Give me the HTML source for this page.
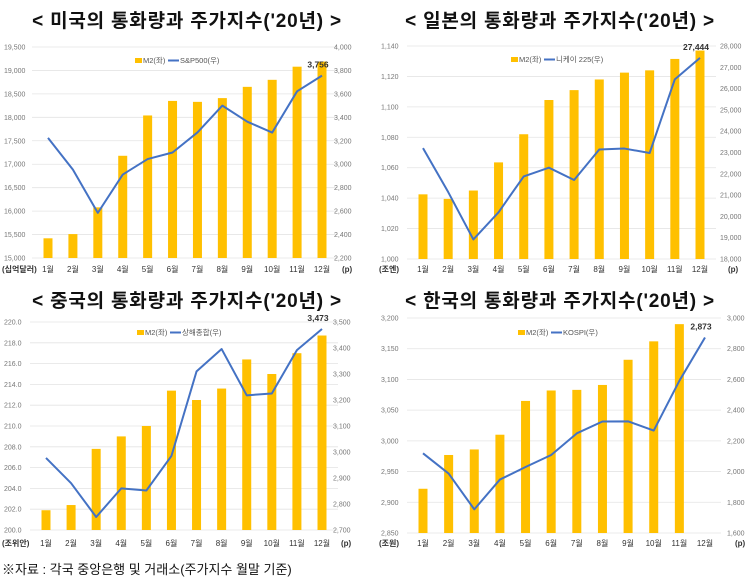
<!DOCTYPE html>
<html><head><meta charset="utf-8">
<style>
body{margin:0;background:#fff;}
svg{display:block;font-family:"Liberation Sans","Noto Sans CJK KR",sans-serif;}
.ttl{letter-spacing:0.8px;}
</style></head>
<body>
<svg id="c" width="750" height="580" viewBox="0 0 750 580">
<rect width="750" height="580" fill="#fff"/>
<text class="ttl" x="187" y="27" text-anchor="middle" font-size="19" font-weight="bold" fill="#111">&lt; 미국의 통화량과 주가지수('20년) &gt;</text>
<text class="ttl" x="560" y="27" text-anchor="middle" font-size="19" font-weight="bold" fill="#111">&lt; 일본의 통화량과 주가지수('20년) &gt;</text>
<text class="ttl" x="187" y="307" text-anchor="middle" font-size="19" font-weight="bold" fill="#111">&lt; 중국의 통화량과 주가지수('20년) &gt;</text>
<text class="ttl" x="560" y="307" text-anchor="middle" font-size="19" font-weight="bold" fill="#111">&lt; 한국의 통화량과 주가지수('20년) &gt;</text>
<text x="2" y="574" font-size="13" fill="#111">※자료 : 각국 중앙은행 및 거래소(주가지수 월말 기준)</text>
</svg>
<script>
const months=['1월','2월','3월','4월','5월','6월','7월','8월','9월','10월','11월','12월'];
const usM2=[15420,15510,16080,17180,18040,18350,18330,18410,18650,18800,19080,19190];
const usIdx=[3225,2954,2585,2912,3044,3100,3271,3500,3363,3270,3622,3756];
const usLeftTicks=['15,000','15,500','16,000','16,500','17,000','17,500','18,000','18,500','19,000','19,500'];
const usRightTicks=['2,200','2,400','2,600','2,800','3,000','3,200','3,400','3,600','3,800','4,000'];
const jpM2=[1042.5,1039.5,1045,1063.5,1082,1104.5,1111,1118,1122.5,1124,1131.5,1137];
const jpIdx=[23205,21143,18917,20194,21878,22288,21710,23140,23185,22977,26434,27444];
const jpLeftTicks=['1,000','1,020','1,040','1,060','1,080','1,100','1,120','1,140'];
const jpRightTicks=['18,000','19,000','20,000','21,000','22,000','23,000','24,000','25,000','26,000','27,000','28,000'];
const cnM2=[201.9,202.4,207.8,209.0,210.0,213.4,212.5,213.6,216.4,215.0,217.0,218.7];
const cnIdx=[2977,2880,2750,2860,2852,2985,3310,3396,3218,3225,3392,3473];
const cnLeftTicks=['200.0','202.0','204.0','206.0','208.0','210.0','212.0','214.0','216.0','218.0','220.0'];
const cnRightTicks=['2,700','2,800','2,900','3,000','3,100','3,200','3,300','3,400','3,500'];
const krM2=[2922,2977,2986,3010,3065,3082,3083,3091,3132,3162,3190,null];
const krIdx=[2119,1987,1754,1948,2030,2108,2249,2326,2327,2267,2591,2873];
const krLeftTicks=['2,850','2,900','2,950','3,000','3,050','3,100','3,150','3,200'];
const krRightTicks=['1,600','1,800','2,000','2,200','2,400','2,600','2,800','3,000'];

const NS='http://www.w3.org/2000/svg';
const svg=document.getElementById('c');
function mk(tag,attrs,parent){const e=document.createElementNS(NS,tag);for(const k in attrs)e.setAttribute(k,attrs[k]);(parent||svg).appendChild(e);return e;}
const num=s=>parseFloat(s.replace(/,/g,''));

function panel(p){
  const g=mk('g',{});
  
  
  const lmin=num(p.lt[0]),lmax=num(p.lt[p.lt.length-1]);
  const rmin=num(p.rt[0]),rmax=num(p.rt[p.rt.length-1]);
  const yL=v=>p.yb-(v-lmin)/(lmax-lmin)*(p.yb-p.yt);
  const yR=v=>p.yb-(v-rmin)/(rmax-rmin)*(p.yb-p.yt);
  const xs=i=>p.x1+i*(p.x12-p.x1)/11;
  p.lt.forEach(t=>{
    const y=yL(num(t));
    const ln=mk('line',{x1:p.x1-16,x2:p.x12+16,y1:y,y2:y,stroke:'#e4e4e4','stroke-width':0.8},g);
    
    
    const tx=mk('text',{x:p.lx,y:y+2.5,'font-size':7,fill:'#777'},g);
    tx.textContent=t;
    
    
  });
  p.rt.forEach(t=>{
    const y=yR(num(t));
    const tx=mk('text',{x:p.rx,y:y+2.5,'font-size':7,fill:'#777'},g);
    tx.textContent=t;
    
    
  });
  p.m2.forEach((v,i)=>{
    if(v==null)return;
    const r=mk('rect',{x:xs(i)-4.5,y:yL(v),width:9,height:p.yb-yL(v),fill:'#FFC000'},g);
    
    
  });
  const pl=mk('polyline',{points:p.idx.map((v,i)=>xs(i)+','+yR(v)).join(' '),fill:'none',stroke:'#4472C4','stroke-width':2,'stroke-linejoin':'round'},g);
  
  
  const last=p.idx[11];
  const lb=mk('text',{x:xs(11)-4,y:yR(last)-8,'text-anchor':'middle','font-size':8.5,'font-weight':'bold',fill:'#333'},g);
  lb.textContent=last.toLocaleString('en-US');
  
  
  months.forEach((m,i)=>{
    const t=mk('text',{x:xs(i),y:p.yx,'text-anchor':'middle','font-size':8,fill:'#333'},g);
    t.textContent=m;
    
    
  });
  const u=mk('text',{x:p.lx-2,y:p.yx,'font-size':8,'font-weight':'bold',fill:'#333'},g);
  u.textContent=p.unit;
  
  
  const pu=mk('text',{x:p.rx+8,y:p.yx,'font-size':8,'font-weight':'bold',fill:'#333'},g);
  pu.textContent='(p)';
  
  
  const lg=mk('g',{},g);
  
  
  mk('rect',{x:p.legx,y:p.legy-3,width:7,height:5,fill:'#FFC000'},lg);
  const t1=mk('text',{x:p.legx+8,y:p.legy+2,'font-size':7.5,fill:'#555'},lg);
  t1.textContent='M2(좌)';
  mk('line',{x1:p.legx+33,x2:p.legx+44,y1:p.legy-0.5,y2:p.legy-0.5,stroke:'#4472C4','stroke-width':2},lg);
  const t2=mk('text',{x:p.legx+45,y:p.legy+2,'font-size':7.5,fill:'#555'},lg);
  t2.textContent=p.legName;
}

panel({key:'us',m2:usM2,idx:usIdx,lt:usLeftTicks,rt:usRightTicks,yt:47,yb:258,x1:48,x12:322,lx:4,rx:334,yx:272,unit:'(십억달러)',legx:135,legy:61,legName:'S&P500(우)'});
panel({key:'japan',m2:jpM2,idx:jpIdx,lt:jpLeftTicks,rt:jpRightTicks,yt:46,yb:259,x1:423,x12:700,lx:381,rx:720,yx:272,unit:'(조엔)',legx:511,legy:60,legName:'니케이 225(우)'});
panel({key:'china',m2:cnM2,idx:cnIdx,lt:cnLeftTicks,rt:cnRightTicks,yt:322,yb:530,x1:46,x12:322,lx:4,rx:333,yx:546,unit:'(조위안)',legx:137,legy:333,legName:'상해종합(우)'});
panel({key:'korea',m2:krM2,idx:krIdx,lt:krLeftTicks,rt:krRightTicks,yt:318,yb:533,x1:423,x12:705,lx:381,rx:727,yx:546,unit:'(조원)',legx:518,legy:333,legName:'KOSPI(우)'});
</script>
</body></html>
